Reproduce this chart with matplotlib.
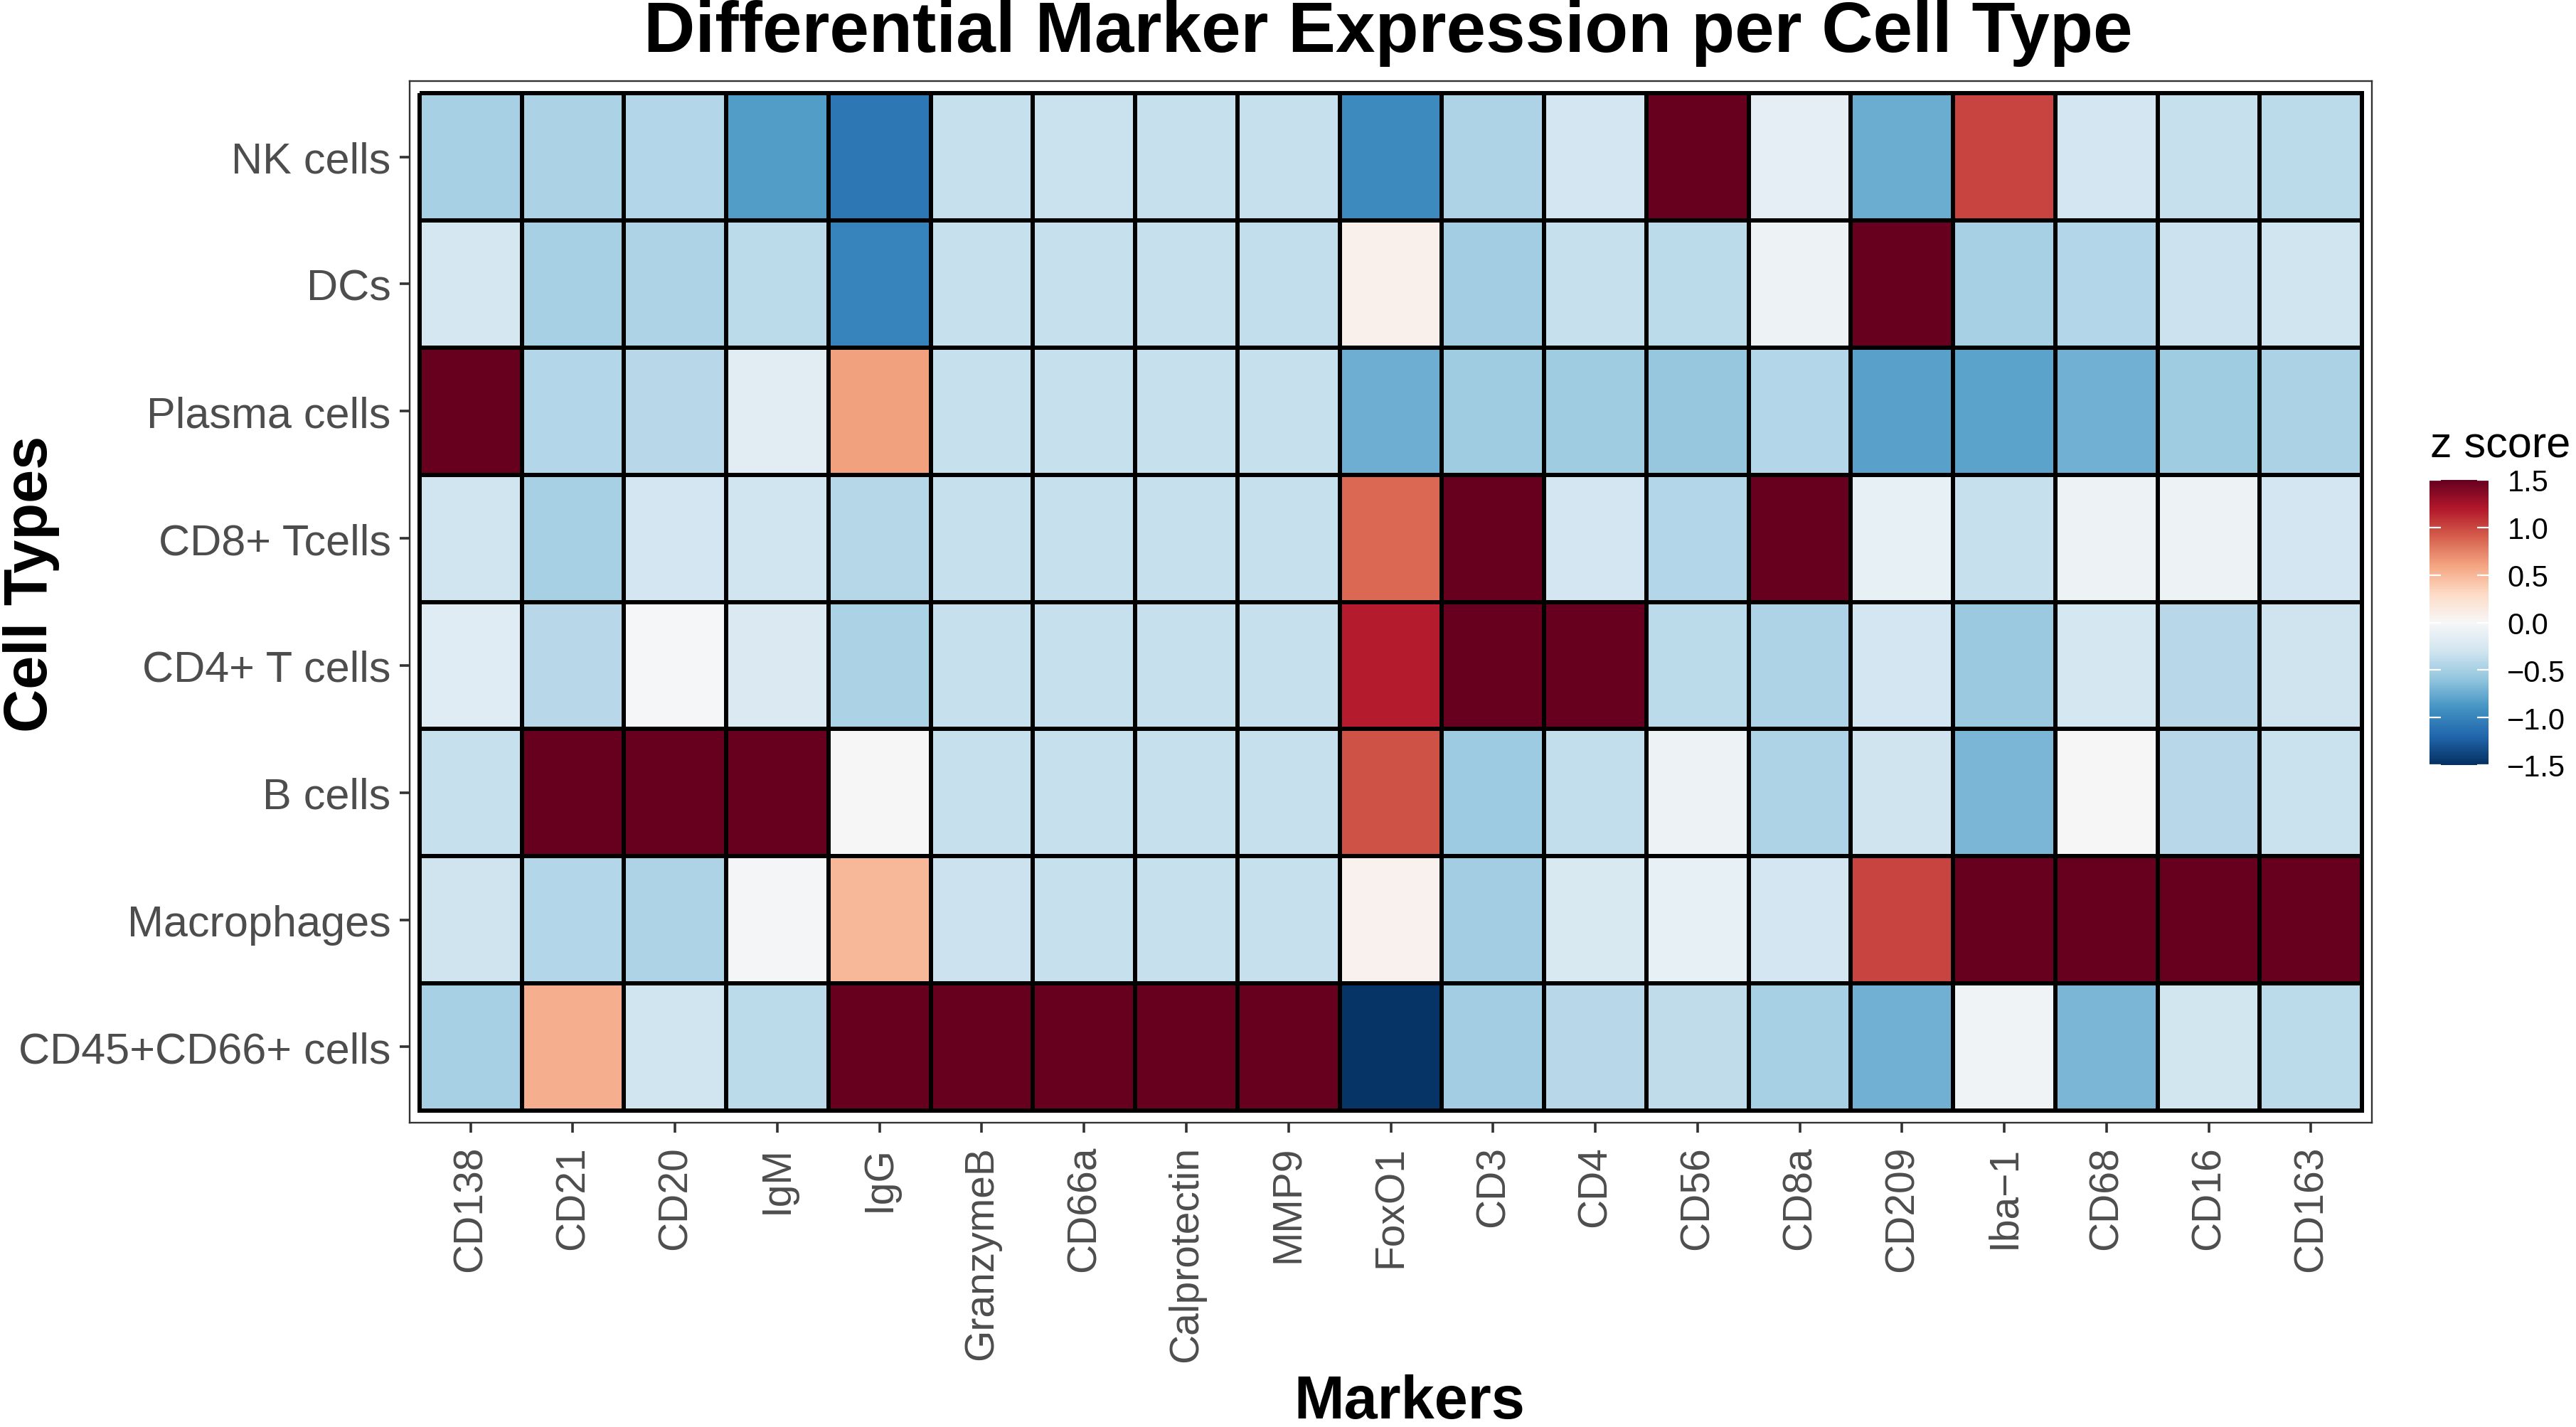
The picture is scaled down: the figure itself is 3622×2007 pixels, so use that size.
"""Heatmap of differential marker expression (z scores) per cell type."""

import matplotlib
matplotlib.use("Agg")
import matplotlib.pyplot as plt
from matplotlib.colors import Normalize
from matplotlib.cm import ScalarMappable
import numpy as np

plt.rcParams["font.family"] = ["Liberation Sans", "DejaVu Sans"]

markers = ["CD138", "CD21", "CD20", "IgM", "IgG", "GranzymeB", "CD66a",
           "Calprotectin", "MMP9", "FoxO1", "CD3", "CD4", "CD56", "CD8a",
           "CD209", "Iba\u22121", "CD68", "CD16", "CD163"]

cell_types = ["NK cells", "DCs", "Plasma cells", "CD8+ Tcells",
              "CD4+ T cells", "B cells", "Macrophages", "CD45+CD66+ cells"]

# z scores (values above 1.5 are drawn at the top colour)
nk_cells = [-0.50, -0.48, -0.44, -0.84, -1.08, -0.34, -0.33, -0.34, -0.35, -0.95,
            -0.46, -0.27, 2.0, -0.15, -0.74, 1.01, -0.27, -0.34, -0.40]
dcs = [-0.26, -0.50, -0.46, -0.41, -1.00, -0.34, -0.34, -0.34, -0.37, 0.08,
       -0.52, -0.35, -0.40, -0.08, 2.0, -0.50, -0.44, -0.32, -0.30]
plasma_cells = [2.0, -0.44, -0.42, -0.17, 0.61, -0.34, -0.35, -0.34, -0.34, -0.73,
                -0.53, -0.53, -0.58, -0.44, -0.81, -0.80, -0.72, -0.53, -0.47]
cd8_tcells = [-0.30, -0.50, -0.27, -0.30, -0.43, -0.34, -0.34, -0.34, -0.35, 0.86,
              2.0, -0.27, -0.44, 2.0, -0.12, -0.35, -0.08, -0.08, -0.27]
cd4_tcells = [-0.18, -0.42, -0.02, -0.23, -0.48, -0.34, -0.34, -0.34, -0.34, 1.18,
              2.0, 2.0, -0.40, -0.46, -0.27, -0.56, -0.26, -0.42, -0.31]
b_cells = [-0.34, 2.0, 2.0, 2.0, 0.00, -0.34, -0.34, -0.34, -0.35, 0.96,
           -0.54, -0.37, -0.08, -0.46, -0.31, -0.68, 0.01, -0.42, -0.33]
macrophages = [-0.31, -0.44, -0.46, -0.03, 0.50, -0.32, -0.34, -0.34, -0.35, 0.07,
               -0.52, -0.24, -0.12, -0.27, 1.01, 2.0, 2.0, 2.0, 2.0]
cd45_cd66_cells = [-0.50, 0.55, -0.30, -0.40, 2.0, 2.0, 2.0, 2.0, 2.0, -1.47,
                   -0.52, -0.42, -0.38, -0.50, -0.72, -0.07, -0.68, -0.285, -0.40]

z = np.array([nk_cells, dcs, plasma_cells, cd8_tcells,
              cd4_tcells, b_cells, macrophages, cd45_cd66_cells])

W, H = 3622, 2008
fig = plt.figure(figsize=(W / 100, H / 100), dpi=100)

# panel box in pixels: left 576, right 3335, top 115, bottom 1580
ax = fig.add_axes([576 / W, 1 - 1580 / H, (3335 - 576) / W, (1580 - 115) / H])

norm = Normalize(vmin=-1.5, vmax=1.5)
cmap = plt.get_cmap("RdBu_r")

xe = np.arange(len(markers) + 1) - 0.5
ye = np.arange(len(cell_types) + 1) - 0.5
ax.pcolormesh(xe, ye, z, cmap=cmap, norm=norm,
              edgecolors="black", linewidth=4.3)

pad = 0.096
ax.set_xlim(-0.5 - pad, len(markers) - 0.5 + pad)
ax.set_ylim(len(cell_types) - 0.5 + pad, -0.5 - pad)

ax.set_xticks(range(len(markers)))
ax.set_xticklabels(markers, rotation=90, fontsize=41, color="#4d4d4d")
ax.set_yticks(range(len(cell_types)))
ax.set_yticklabels(cell_types, fontsize=44, color="#4d4d4d")
ax.tick_params(axis="both", length=10, width=2.6, color="#333333")
ax.tick_params(axis="x", pad=13)
ax.tick_params(axis="y", pad=9)
for s in ax.spines.values():
    s.set_color("#333333")
    s.set_linewidth(1.7)

fig.text(1952 / W, 1 - 73 / H, "Differential Marker Expression per Cell Type",
         ha="center", va="baseline", fontsize=72, fontweight="bold")
fig.text(1982 / W, 1 - 1995 / H, "Markers",
         ha="center", va="baseline", fontsize=61, fontweight="bold")
fig.text(84 / W, 1 - 821 / H, "Cell Types", rotation=90,
         ha="right", va="center", fontsize=61, fontweight="bold")

# colour bar legend
cax = fig.add_axes([3416 / W, 1 - 1077 / H, 83 / W, (1077 - 676) / H])
cb = fig.colorbar(ScalarMappable(norm=norm, cmap=cmap), cax=cax)
cb.outline.set_visible(False)
bar_ticks = [-1.5, -1.0, -0.5, 0.0, 0.5, 1.0, 1.5]
cb.set_ticks(bar_ticks)
cb.set_ticklabels([f"{t:.1f}".replace("-", "\u2212") for t in bar_ticks])
cax.tick_params(length=0, pad=19, labelsize=30)
cax.hlines(bar_ticks, 0, 0.19, color="white", linewidth=1.6)
cax.hlines(bar_ticks, 0.81, 1, color="white", linewidth=1.6)
fig.text(3417 / W, 1 - 643 / H, "z score", ha="left", va="baseline", fontsize=44)

fig.savefig("out.png", dpi=100)
